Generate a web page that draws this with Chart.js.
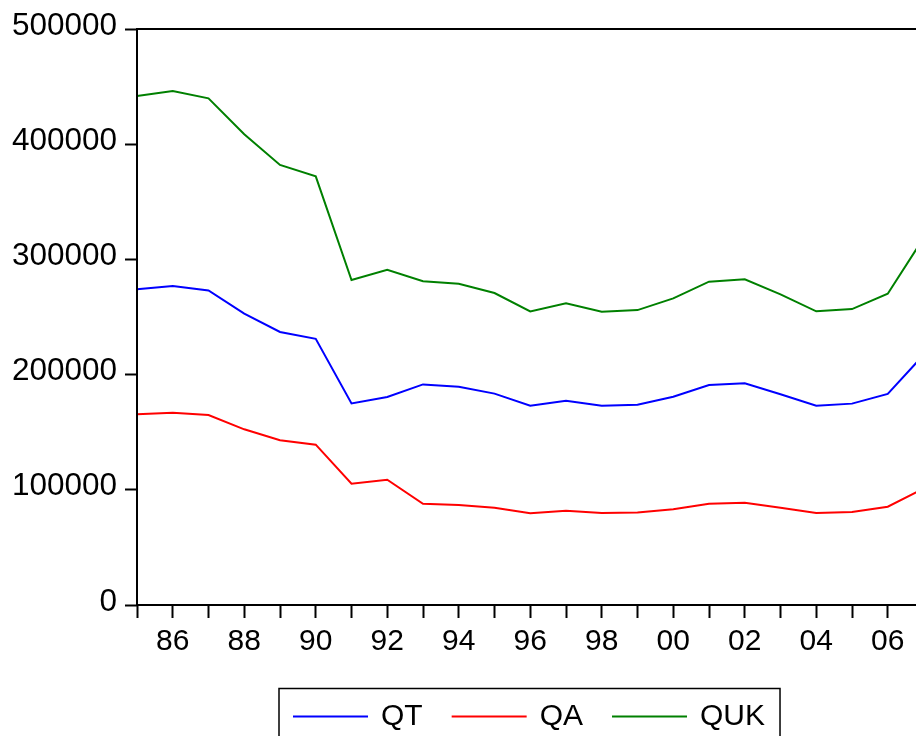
<!DOCTYPE html>
<html>
<head>
<meta charset="utf-8">
<script src="https://cdn.jsdelivr.net/npm/chart.js@4"></script>
<style>
  html, body { margin: 0; padding: 0; background: #fff; overflow: hidden; }
  #wrap { width: 916px; height: 736px; overflow: hidden; }
</style>
</head>
<body>
<div id="wrap"><canvas id="chart" width="940" height="736"></canvas></div>
<script>
// annual series 1985-2007
const years = ['1985','1986','1987','1988','1989','1990','1991','1992','1993','1994','1995','1996',
               '1997','1998','1999','2000','2001','2002','2003','2004','2005','2006','2007'];
const tickLabels = ['', '86', '', '88', '', '90', '', '92', '', '94', '', '96',
                    '', '98', '', '00', '', '02', '', '04', '', '06', ''];
const qt  = [274000, 277000, 273000, 253000, 237000, 231000, 175000, 180500, 191500, 189500, 183500, 173000,
             177300, 173000, 173800, 180800, 191000, 192400, 183000, 173000, 174800, 183200, 217000];
const qa  = [165500, 166900, 164900, 152500, 143000, 139200, 105300, 108800, 87900, 86800, 84500, 79600,
             81900, 79900, 80400, 83100, 87900, 88800, 84500, 79900, 80700, 85300, 101000];
const quk = [441800, 446200, 439800, 408600, 382000, 372100, 282100, 291000, 281000, 278900, 270800, 254900,
             261900, 254600, 256000, 266200, 280700, 282700, 269700, 254900, 256900, 270200, 318500];
const yTicks = [0, 100000, 200000, 300000, 400000, 500000];

const FONT = 'Liberation Sans, Arial, Helvetica, sans-serif';

// box around plot + boxed legend at the bottom
const framePlugin = {
  id: 'frame',
  afterDraw(chart) {
    const { ctx, chartArea } = chart;
    ctx.save();
    ctx.strokeStyle = '#000';
    ctx.lineWidth = 2;
    ctx.strokeRect(chartArea.left, chartArea.top, chartArea.right - chartArea.left, chartArea.bottom - chartArea.top);

    // legend
    ctx.font = '30px ' + FONT;
    ctx.textBaseline = 'alphabetic';
    ctx.textAlign = 'left';
    const lineLen = 75, padL = 14, gapText = 13, gapItem = 29;
    let x = 279 + padL;
    const yLine = 716.5, yText = 725;
    chart.data.datasets.forEach((ds, i) => {
      ctx.strokeStyle = ds.borderColor;
      ctx.lineWidth = 2;
      ctx.beginPath();
      ctx.moveTo(x, yLine);
      ctx.lineTo(x + lineLen, yLine);
      ctx.stroke();
      x += lineLen + gapText;
      ctx.fillStyle = '#000';
      ctx.fillText(ds.label, x, yText);
      x += ctx.measureText(ds.label).width;
      if (i < chart.data.datasets.length - 1) x += gapItem;
    });
    const boxRight = x + 15;
    ctx.strokeStyle = '#000';
    ctx.lineWidth = 1.5;
    ctx.strokeRect(279, 688.5, boxRight - 279, 60);
    ctx.restore();
  }
};

new Chart(document.getElementById('chart'), {
  type: 'line',
  data: {
    labels: years,
    datasets: [
      { label: 'QT',  data: qt,  borderColor: '#0000ff' },
      { label: 'QA',  data: qa,  borderColor: '#ff0000' },
      { label: 'QUK', data: quk, borderColor: '#008000' }
    ]
  },
  options: {
    responsive: false,
    animation: false,
    devicePixelRatio: 1,
    layout: { padding: { top: 29, right: 16.5, left: 0, bottom: 0 } },
    elements: {
      line: { borderWidth: 2, tension: 0, fill: false },
      point: { radius: 0 }
    },
    plugins: {
      legend: { display: false },
      tooltip: { enabled: false }
    },
    scales: {
      x: {
        type: 'category',
        offset: false,
        afterFit(scale) { scale.height = 131; },
        grid: { display: true, drawOnChartArea: false, drawTicks: true, tickLength: 13,
                tickWidth: 2, tickColor: '#000', offset: false },
        border: { display: false },
        ticks: {
          autoSkip: false, maxRotation: 0, minRotation: 0, padding: 6,
          color: '#000', font: { family: FONT, size: 30 },
          callback: (v, i) => tickLabels[i]
        }
      },
      y: {
        min: 0, max: 500000,
        afterFit(scale) { scale.width = 137; },
        afterBuildTicks(scale) { scale.ticks = yTicks.map(v => ({ value: v })); },
        grid: { display: true, drawOnChartArea: false, drawTicks: true, tickLength: 12,
                tickWidth: 2, tickColor: '#000' },
        border: { display: false },
        ticks: {
          padding: 8, labelOffset: -3,
          color: '#000', font: { family: FONT, size: 31.5 },
          callback: v => String(v)
        }
      }
    }
  },
  plugins: [framePlugin]
});
</script>
</body>
</html>
